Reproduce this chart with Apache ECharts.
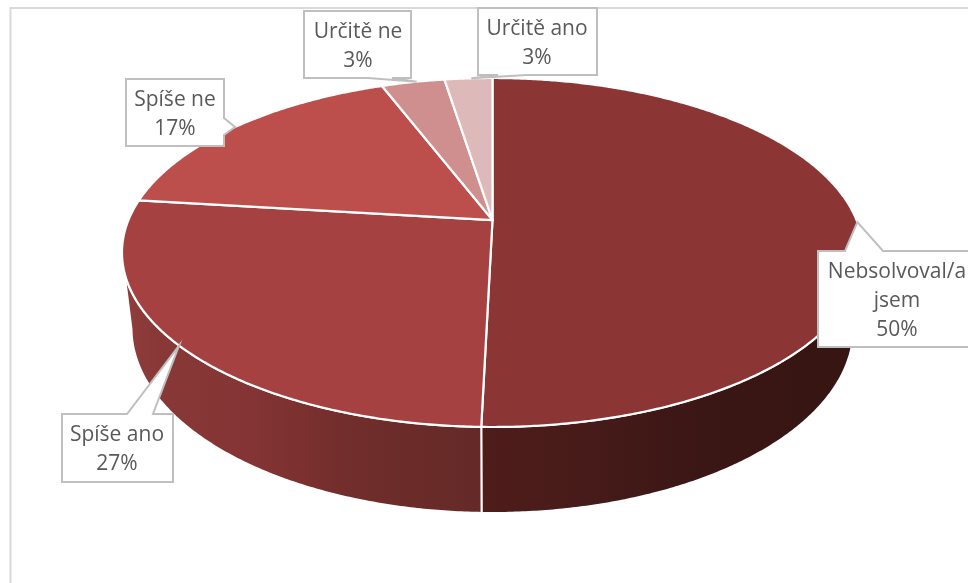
<!DOCTYPE html>
<html><head><meta charset="utf-8">
<style>html,body{margin:0;padding:0;background:#fff}#c{width:968px;height:583px}</style>
<script src="https://cdn.jsdelivr.net/npm/echarts@6/dist/echarts.min.js"></script>
</head><body><div id="c"></div>
<script>
const categories = ['Nebsolvoval/a\njsem', 'Spíše ano', 'Spíše ne', 'Určitě ne', 'Určitě ano'];
const shares = [50.4, 26.5, 17.3, 3.3, 2.5];

const topColors = ['#8B3635', '#A54241', '#BC4F4C', '#CE8F8E', '#DEB9BA'];
const wallStops = [
  [[0, '#4F1C1A'], [0.3, '#461B19'], [0.6, '#3A1614'], [1, '#361513']],
  [[0, '#8F3E3C'], [0.1, '#883836'], [0.35, '#843434'], [0.65, '#702D2B'], [1, '#642A27']],
  [[0, '#8B3635'], [1, '#8B3635']], [[0, '#8B3635'], [1, '#8B3635']], [[0, '#8B3635'], [1, '#8B3635']]
];
const wallSpan = [[481, 854], [123, 481], [0, 1], [0, 1], [0, 1]];
// Callout boxes: left, top, right, bottom, pointer base (two points on one edge), pointer position along the slice
const boxes = [
  {l: 818, t: 251, r: 976, b: 347, side: 't', a: 845, c: 883, tx: 897, ty: 301, tipAt: 0.5},
  {l: 62,  t: 414, r: 173, b: 482, side: 't', a: 127, c: 153, tx: 117, ty: 450, tipAt: 0.5},
  {l: 126, t: 79,  r: 224, b: 146, side: 'r', a: 118, c: 135, tx: 175, ty: 115, tipAt: 0.5},
  {l: 304, t: 11,  r: 411, b: 78,  side: 'b', a: 368, c: 392, tx: 358, ty: 47, tipAt: 0.56},
  {l: 478, t: 8,   r: 597, b: 75,  side: 'b', a: 498, c: 527, tx: 537, ty: 44, tipAt: 0.56}
];
const top3d = {cx: 492.5, cy: 252.5, rx: 370.5, ry: 174.5, tilt: -0.186};
const bottom3d = {cx: 492.5, cy: 328, rx: 361, ry: 185};

const total = shares.reduce((a, b) => a + b, 0);
function rimNorm(cum) {
  const th = cum / total * 2 * Math.PI, x = Math.sin(th), y = -Math.cos(th), t = top3d.tilt;
  const d = 1 + t * y;
  return [x * Math.sqrt(1 - t * t) / d, (y + t) / d];
}
const onTop = n => [top3d.cx + top3d.rx * n[0], top3d.cy + top3d.ry * n[1]];
const onBottom = n => [bottom3d.cx + bottom3d.rx * n[0], bottom3d.cy + bottom3d.ry * n[1]];
const apex = onTop([0, top3d.tilt]);
const starts = shares.map((_, i) => shares.slice(0, i).reduce((a, b) => a + b, 0));

function rimRange(i) {
  const pts = [], n = Math.max(8, Math.ceil(shares[i] * 8));
  for (let k = 0; k <= n; k++) pts.push(rimNorm(starts[i] + shares[i] * k / n));
  return pts;
}
function wallChild(i) {
  const front = rimRange(i).filter(p => p[1] >= 0);
  if (front.length < 2) return null;
  const poly = front.map(onTop).concat(front.slice().reverse().map(onBottom));
  return {type: 'polygon', shape: {points: poly}, style: {
    fill: {type: 'linear', x: wallSpan[i][0], y: 0, x2: wallSpan[i][1], y2: 0, global: true,
      colorStops: wallStops[i].map(s => ({offset: s[0], color: s[1]}))},
    stroke: '#fff', lineWidth: 2, lineJoin: 'round'}};
}
function topChild(i) {
  return {type: 'polygon', shape: {points: [apex].concat(rimRange(i).map(onTop))},
    style: {fill: topColors[i], stroke: '#fff', lineWidth: 2.2, lineJoin: 'round'}};
}
function calloutChild(i) {
  const b = boxes[i], tip = onTop(rimNorm(starts[i] + shares[i] * b.tipAt));
  let pts;
  if (b.side === 't') pts = [[b.l, b.t], [b.a, b.t], tip, [b.c, b.t], [b.r, b.t], [b.r, b.b], [b.l, b.b]];
  if (b.side === 'r') pts = [[b.l, b.t], [b.r, b.t], [b.r, b.a], tip, [b.r, b.c], [b.r, b.b], [b.l, b.b]];
  if (b.side === 'b') pts = [[b.l, b.t], [b.r, b.t], [b.r, b.b], [b.c, b.b], tip, [b.a, b.b], [b.l, b.b]];
  return {type: 'group', children: [
    {type: 'polygon', shape: {points: pts}, style: {fill: '#fff', stroke: '#BFBFBF', lineWidth: 2, lineJoin: 'miter'}},
    {type: 'text', style: {x: b.tx, y: b.ty, text: categories[i] + '\n' + Math.round(shares[i]) + '%',
      fill: '#595959', font: '21px "Open Sans"', lineHeight: 29, align: 'center', verticalAlign: 'middle'}}
  ]};
}
const rows = categories.map((c, i) => [i, shares[i]]);
const layer = (z, fn) => ({
  type: 'custom', coordinateSystem: 'none', silent: true, animation: false, z,
  data: rows,
  renderItem: (p, api) => fn(api.value(0)) || {type: 'group', children: []}
});
const chart = echarts.init(document.getElementById('c'), null, {renderer: 'canvas'});
chart.setOption({
  backgroundColor: '#fff',
  animation: false,
  graphic: [{type: 'rect', z: 0, silent: true, shape: {x: 10.5, y: 8, width: 1000, height: 640},
    style: {fill: 'none', stroke: '#D9D9D9', lineWidth: 2}}],
  series: [layer(1, wallChild), layer(2, topChild), layer(3, calloutChild)]
});
</script></body></html>
